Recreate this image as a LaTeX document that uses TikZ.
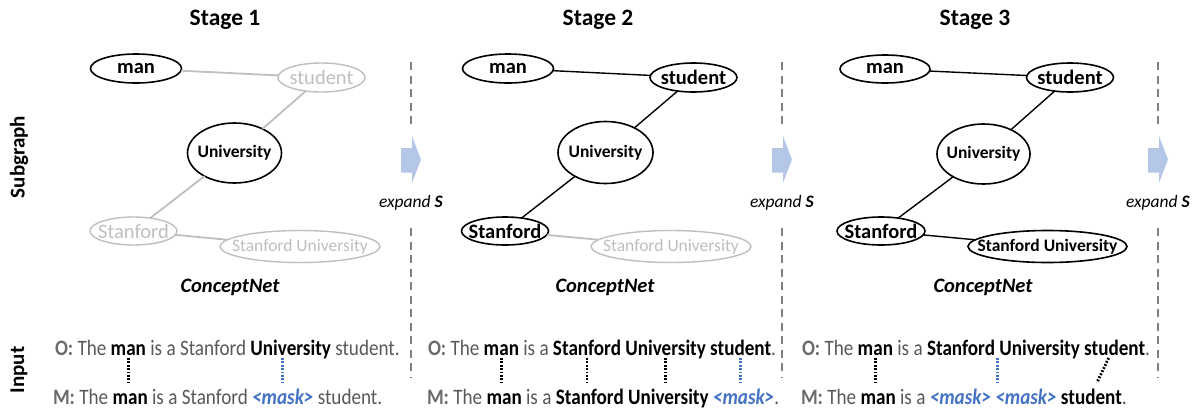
\documentclass[tikz,border=0pt]{standalone}
\usepackage{fontspec}
\setmainfont{Carlito}
\newfontfamily\inpfont[FakeStretch=0.87]{Carlito}
\usetikzlibrary{shapes.geometric,positioning,calc}
\definecolor{lg}{HTML}{BFBFBF}
\definecolor{tg}{HTML}{595959}
\definecolor{og}{HTML}{6B6B6B}
\definecolor{mb}{HTML}{4472C4}
\definecolor{dg}{HTML}{7F7F7F}
\definecolor{ab}{HTML}{B4C7E7}
\newcommand\myfStage{\fontsize{23.5}{27}\selectfont\bfseries}
\newcommand\myfA{\fontsize{20.5}{24}\selectfont}
\newcommand\myfB{\fontsize{17.5}{21}\selectfont}
\newcommand\myfC{\fontsize{20.5}{24}\selectfont\bfseries\itshape}
\newcommand\myfE{\fontsize{17.5}{21}\selectfont}
\newcommand\myinp{\inpfont\fontsize{22}{26}\selectfont}
\newcommand\wsp{4.3pt}
\tikzset{
  ell/.style={ellipse, inner sep=0pt, outer sep=0pt},
  on/.style={ell, draw=black, line width=1.6pt},
  off/.style={ell, draw=lg, line width=1.4pt},
  ton/.style={font=\myfA\bfseries, text=black, inner sep=0pt},
  toff/.style={font=\myfA, text=lg, inner sep=0pt},
  tonS/.style={font=\myfB\bfseries, text=black, inner sep=0pt},
  toffS/.style={font=\myfB, text=lg, inner sep=0pt},
  eon/.style={draw=black, line width=1.4pt},
  eoff/.style={draw=lg, line width=1.8pt},
  stage/.style={anchor=base, font=\myfStage},
  cnet/.style={anchor=base, font=\myfC},
  sep/.style={draw=dg, line width=1.4pt, dash pattern=on 8pt off 5.5pt},
  wd/.style={anchor=base west, inner sep=0pt, outer sep=0pt, text height=16pt, text depth=3pt, font=\myinp, text=tg},
  wl/.style={wd, font=\myinp\bfseries, text=og},
  wb/.style={wd, font=\myinp\bfseries, text=black},
  wm/.style={wd, font=\myinp\bfseries\itshape, text=mb},
  dotk/.style={draw=black, line width=2.8pt, dash pattern=on 1.8pt off 1.6pt, shorten >=6pt},
  dotb/.style={dotk, draw=mb},
  side/.style={rotate=90, font=\fontsize{21}{25}\selectfont\bfseries}
}
\begin{document}
\begin{tikzpicture}[x=1pt,y=-1pt]
\useasboundingbox (0,0) rectangle (1202,410);
\fill[white] (0,0) rectangle (1202,410);

% side labels
\node[side] (lsub) at (19,157) {Subgraph};
\node[side] (linp) at (19,370) {Input};

% stage titles
\node[stage] (st1) at (225,25) {Stage 1};
\node[stage] (st2) at (598,25) {Stage 2};
\node[stage] (st3) at (975,25) {Stage 3};

% separators, arrows, expand S
\foreach \dx/\nm in {411/p,782/q,1158/r}{
  \coordinate (\nm t1) at (\dx,62);
  \coordinate (\nm b1) at (\dx,127);
  \coordinate (\nm t2) at (\dx,228);
  \coordinate (\nm b2) at (\dx,377);
  \draw[sep] (\nm t1) -- (\nm b1);
  \draw[sep] (\nm t2) -- (\nm b2);
  \fill[ab] (\dx-10,148) -- (\dx+1,148) -- (\dx+1,136) -- (\dx+10,159.5) -- (\dx+1,183) -- (\dx+1,172.5) -- (\dx-10,172.5) -- cycle;
  \node[anchor=base, font=\myfE] (\nm x) at (\dx,207) {\textit{expand} \textbf{\textit{S}}};
}

% ---------- Panel 1 ----------
\node[on,  minimum width=91, minimum height=29, label={[ton]center:man}] (a-man) at (136,68.5) {};
\node[off, minimum width=87, minimum height=29, label={[toff]center:student}] (a-stu) at (321.5,77.5) {};
\node[on,  minimum width=94, minimum height=60, label={[tonS]center:University}] (a-uni) at (234.5,153) {};
\node[off, minimum width=87, minimum height=28, label={[toff]center:Stanford}] (a-stan) at (133.5,231) {};
\node[off, minimum width=160, minimum height=32, label={[toffS]center:Stanford University}] (a-su) at (300,246.5) {};
\draw[eoff] (a-man) -- (a-stu);
\draw[eoff] (a-stu) -- (a-uni);
\draw[eoff] (a-uni) -- (a-stan);
\draw[eoff] (a-stan) -- (a-su);
\node[cnet] (a-cn) at (230,292) {ConceptNet};

% ---------- Panel 2 ----------
\node[on,  minimum width=91, minimum height=29, label={[ton]center:man}] (b-man) at (508,68.5) {};
\node[on,  minimum width=87, minimum height=29, label={[ton]center:student}] (b-stu) at (693.5,77.5) {};
\node[on,  minimum width=95, minimum height=62, label={[tonS]center:University}] (b-uni) at (605.5,152.5) {};
\node[on,  minimum width=87, minimum height=28, label={[ton]center:Stanford}] (b-stan) at (505,231) {};
\node[off, minimum width=160, minimum height=32, label={[toffS]center:Stanford University}] (b-su) at (671,246.5) {};
\draw[eon] (b-man) -- (b-stu);
\draw[eon] (b-stu) -- (b-uni);
\draw[eon] (b-uni) -- (b-stan);
\draw[eoff] (b-stan) -- (b-su);
\node[cnet] (b-cn) at (605,292) {ConceptNet};

% ---------- Panel 3 ----------
\node[on,  minimum width=90, minimum height=28, label={[ton]center:man}] (c-man) at (885,69) {};
\node[on,  minimum width=87, minimum height=29, label={[ton]center:student}] (c-stu) at (1070,77.5) {};
\node[on,  minimum width=93, minimum height=60, label={[tonS]center:University}] (c-uni) at (983.5,154) {};
\node[on,  minimum width=88, minimum height=28, label={[ton]center:Stanford}] (c-stan) at (881,231) {};
\node[on,  minimum width=159, minimum height=32, label={[tonS]center:Stanford University}] (c-su) at (1047.5,246.5) {};
\draw[eon] (c-man) -- (c-stu);
\draw[eon] (c-stu) -- (c-uni);
\draw[eon] (c-uni) -- (c-stan);
\draw[eon] (c-stan) -- (c-su);
\node[cnet] (c-cn) at (983,292) {ConceptNet};

% ---------- Input lines, panel 1 ----------
\node[wl] (a-O) at (55,355) {O:};
\node[wd, base right=\wsp of a-O] (a-O1) {The};
\node[wb, base right=\wsp of a-O1] (a-Oman) {man};
\node[wd, base right=\wsp of a-Oman] (a-O2) {is a Stanford};
\node[wb, base right=\wsp of a-O2] (a-Ouni) {University};
\node[wd, base right=\wsp of a-Ouni] (a-O3) {student.};

\node[wl] (a-M) at (53,404) {M:};
\node[wd, base right=\wsp of a-M] (a-M1) {The};
\node[wb, base right=\wsp of a-M1] (a-Mman) {man};
\node[wd, base right=\wsp of a-Mman] (a-M2) {is a Stanford};
\node[wm, base right=\wsp of a-M2] (a-Mmask) {<mask>};
\node[wd, base right=\wsp of a-Mmask] (a-M3) {student.};

\draw[dotk] (a-Oman.south) -- (a-Oman.south |- a-Mman.north);
\draw[dotb] (a-Mmask.north |- a-Ouni.south) -- (a-Mmask.north);

% ---------- Input lines, panel 2 ----------
\node[wl] (b-O) at (428,355) {O:};
\node[wd, base right=\wsp of b-O] (b-O1) {The};
\node[wb, base right=\wsp of b-O1] (b-Oman) {man};
\node[wd, base right=\wsp of b-Oman] (b-O2) {is a};
\node[wb, base right=\wsp of b-O2] (b-Ostan) {Stanford};
\node[wb, base right=\wsp of b-Ostan] (b-Ouni) {University};
\node[wb, base right=\wsp of b-Ouni] (b-Ostu) {student};
\node[wd, base right=0pt of b-Ostu] (b-O3) {.};

\node[wl] (b-M) at (427,404) {M:};
\node[wd, base right=\wsp of b-M] (b-M1) {The};
\node[wb, base right=\wsp of b-M1] (b-Mman) {man};
\node[wd, base right=\wsp of b-Mman] (b-M2) {is a};
\node[wb, base right=\wsp of b-M2] (b-Mstan) {Stanford};
\node[wb, base right=\wsp of b-Mstan] (b-Muni) {University};
\node[wm, base right=\wsp of b-Muni] (b-Mmask) {<mask>};
\node[wd, base right=0pt of b-Mmask] (b-M3) {.};

\draw[dotk] (b-Oman.south) -- (b-Oman.south |- b-Mman.north);
\draw[dotk] (b-Ostan.south) -- (b-Ostan.south |- b-Mstan.north);
\draw[dotk] (b-Ouni.south) -- (b-Ouni.south |- b-Muni.north);
\draw[dotb] (b-Ostu.south) -- (b-Ostu.south |- b-Mmask.north);

% ---------- Input lines, panel 3 ----------
\node[wl] (c-O) at (802,355) {O:};
\node[wd, base right=\wsp of c-O] (c-O1) {The};
\node[wb, base right=\wsp of c-O1] (c-Oman) {man};
\node[wd, base right=\wsp of c-Oman] (c-O2) {is a};
\node[wb, base right=\wsp of c-O2] (c-Ostan) {Stanford};
\node[wb, base right=\wsp of c-Ostan] (c-Ouni) {University};
\node[wb, base right=\wsp of c-Ouni] (c-Ostu) {student};
\node[wd, base right=0pt of c-Ostu] (c-O3) {.};

\node[wl] (c-M) at (801,404) {M:};
\node[wd, base right=\wsp of c-M] (c-M1) {The};
\node[wb, base right=\wsp of c-M1] (c-Mman) {man};
\node[wd, base right=\wsp of c-Mman] (c-M2) {is a};
\node[wm, base right=\wsp of c-M2] (c-Mmask1) {<mask>};
\node[wm, base right=\wsp of c-Mmask1] (c-Mmask2) {<mask>};
\node[wb, base right=\wsp of c-Mmask2] (c-Mstu) {student};
\node[wd, base right=0pt of c-Mstu] (c-M3) {.};

\draw[dotk] (c-Oman.south) -- (c-Oman.south |- c-Mman.north);
\coordinate (c-gap) at ($(c-Ostan.south east)!0.5!(c-Ouni.south west)$);
\draw[dotb] (c-gap) -- (c-gap |- c-Mmask1.north);
\draw[dotk, shorten <=0pt] ([xshift=-6pt]c-Ostu.south) -- ([xshift=3pt]c-Mstu.north);
\end{tikzpicture}
\end{document}
